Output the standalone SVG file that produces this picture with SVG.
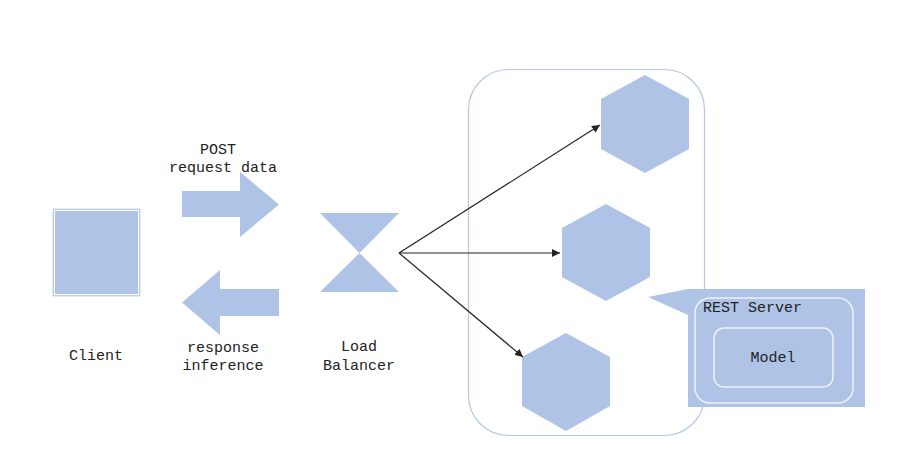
<svg xmlns="http://www.w3.org/2000/svg" width="900" height="451" viewBox="0 0 900 451">
<style>
.f{fill:#afc3e6}
.t{font-family:"Liberation Mono","Courier New",monospace;font-size:15px;fill:#222;text-anchor:middle}
.c{fill:none;stroke:#222;stroke-width:1.2}
</style>
<defs>
<marker id="ah" viewBox="0 0 10 10" refX="10" refY="5" markerWidth="8" markerHeight="8" markerUnits="userSpaceOnUse" orient="auto">
<path d="M0,0 L10,5 L0,10 z" fill="#222"/>
</marker>
</defs>
<rect width="900" height="451" fill="#fff"/>
<g id="client">
<rect x="53" y="209" width="87" height="87" class="f" stroke="#c9d7ef" stroke-width="1"/>
<rect x="54.5" y="210.5" width="84" height="84" fill="none" stroke="#fff" stroke-width="1"/>
<text x="96" y="360" class="t">Client</text>
</g>
<g id="request-arrow">
<polygon class="f" points="182,191 240,191 240,172 279,204.5 240,237 240,217 182,217"/>
<text x="218" y="154" class="t">POST</text>
<text x="223" y="172" class="t">request data</text>
</g>
<g id="response-arrow">
<polygon class="f" points="279,289 220,289 220,270 182,302.5 220,335 220,316 279,316"/>
<text x="223" y="352" class="t">response</text>
<text x="223" y="370" class="t">inference</text>
</g>
<g id="load-balancer">
<polygon class="f" points="320,213 399,213 359.5,253"/>
<polygon class="f" points="359.5,253 399,292 320,292"/>
<text x="359" y="351" class="t">Load</text>
<text x="359" y="370" class="t">Balancer</text>
</g>
<g id="cluster">
<rect x="468.5" y="69.5" width="236" height="366" rx="40" ry="40" fill="none" stroke="#b4c6e6" stroke-width="1.2"/>
</g>
<g id="server-1">
<polygon class="f" points="645,75 689,99 689,149 645,173 601,149 601,99"/>
</g>
<g id="server-2">
<polygon class="f" points="606,204 650,228 650,277 606,301 562,277 562,228"/>
</g>
<g id="server-3">
<polygon class="f" points="566,333 610,357 610,406 566,431 522,406 522,357"/>
</g>
<g id="connectors">
<line class="c" x1="399" y1="253" x2="600" y2="125" marker-end="url(#ah)"/>
<line class="c" x1="399" y1="253" x2="560" y2="253" marker-end="url(#ah)"/>
<line class="c" x1="399" y1="253" x2="523" y2="357" marker-end="url(#ah)"/>
</g>
<g id="rest-server">
<polygon class="f" points="648,297 688,289 865,289 865,407 688,407 688,315"/>
<rect x="695" y="298" width="158" height="105" rx="15" ry="15" fill="none" stroke="#eef2fa" stroke-width="1.5"/>
<text x="703" y="312" class="t" style="text-anchor:start">REST Server</text>
<g id="model">
<rect x="714" y="328" width="119" height="59" rx="10" ry="10" fill="none" stroke="#eef2fa" stroke-width="1.5"/>
<text x="773" y="362" class="t">Model</text>
</g>
</g>
</svg>
